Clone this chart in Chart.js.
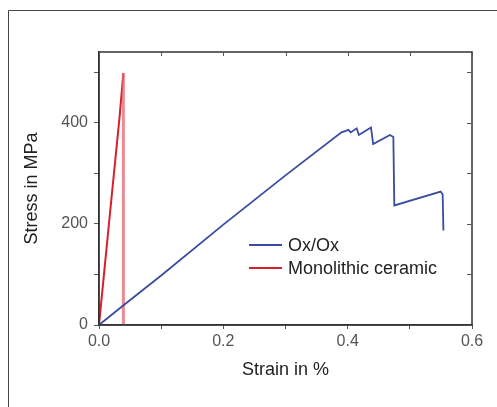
<!DOCTYPE html>
<html>
<head>
<meta charset="utf-8">
<script src="https://cdn.jsdelivr.net/npm/chart.js@4.4.1/dist/chart.umd.min.js"></script>
<style>
html,body{margin:0;padding:0;background:#fff;}
#wrap{width:497px;height:407px;position:relative;}
</style>
</head>
<body>
<div id="wrap"><canvas id="c" width="497" height="407"></canvas></div>
<script>
// Data
const strainOx   = [0, 0.04, 0.1, 0.2, 0.3, 0.39, 0.397, 0.401, 0.405, 0.4145, 0.418, 0.4375, 0.441, 0.468, 0.4735, 0.475, 0.5496, 0.5528, 0.554];
const stressOx   = [0, 39.5, 98, 198.5, 296, 381, 384, 386, 381, 389, 376, 390.6, 358, 375.7, 372, 236.5, 264, 258, 187];
const strainMono = [0, 0.008, 0.02, 0.033, 0.0392, 0.0392];
const stressMono = [0, 100, 250, 410, 498, 0];
const seriesNames = ['Ox/Ox', 'Monolithic ceramic'];
const xTickLabels = ['0.0', '0.2', '0.4', '0.6'];
const yTickLabels = ['0', '200', '400'];

const BLUE = '#3a4c9f';
const RED = '#d6212c';
const RED_LIGHT = 'rgba(228,100,110,0.75)';

const toPts = (xs, ys) => xs.map((x, i) => ({x: x, y: ys[i]}));

const framePlugin = {
  id: 'frame',
  beforeDraw(chart) {
    const c = chart.ctx;
    c.save();
    c.fillStyle = '#fff';
    c.fillRect(0, 0, chart.width, chart.height);
    c.strokeStyle = '#444';
    c.lineWidth = 1;
    c.beginPath();
    c.moveTo(8.5, 407);
    c.lineTo(8.5, 10.5);
    c.lineTo(497, 10.5);
    c.stroke();
    c.restore();
  },
  afterDraw(chart) {
    const c = chart.ctx;
    const a = chart.chartArea;
    const xs = chart.scales.x, ys = chart.scales.y;
    c.save();
    c.strokeStyle = '#333';
    c.lineWidth = 1.5;
    c.strokeRect(a.left, a.top, a.right - a.left, a.bottom - a.top);
    c.lineWidth = 1;
    c.strokeStyle = '#555';
    c.beginPath();
    xs.ticks.forEach(t => {
      const px = Math.round(xs.getPixelForValue(t.value)) + 0.5;
      c.moveTo(px, a.top); c.lineTo(px, a.top + 4);
    });
    ys.ticks.forEach(t => {
      const py = Math.round(ys.getPixelForValue(t.value)) + 0.5;
      c.moveTo(a.right, py); c.lineTo(a.right - 5, py);
    });
    c.stroke();
    // legend
    const ly = [245, 268];
    const cols = [BLUE, RED];
    c.font = '18px "Liberation Sans", Arial, sans-serif';
    c.textBaseline = 'middle';
    c.textAlign = 'left';
    seriesNames.forEach((n, i) => {
      c.strokeStyle = cols[i];
      c.lineWidth = 1.8;
      c.beginPath();
      c.moveTo(249, ly[i]); c.lineTo(282, ly[i]);
      c.stroke();
      c.fillStyle = '#222';
      c.fillText(n, 288, ly[i] + 1);
    });
    c.restore();
  }
};

new Chart(document.getElementById('c'), {
  type: 'scatter',
  data: {
    datasets: [
      {
        label: seriesNames[0],
        data: toPts(strainOx, stressOx),
        showLine: true,
        borderColor: BLUE,
        borderWidth: 1.8,
        pointRadius: 0,
        tension: 0
      },
      {
        label: seriesNames[1],
        data: toPts(strainMono, stressMono),
        showLine: true,
        borderColor: RED,
        borderWidth: 2,
        pointRadius: 0,
        tension: 0,
        segment: {
          borderColor: ctx => ctx.p1DataIndex === strainMono.length - 1 ? RED_LIGHT : RED,
          borderWidth: ctx => ctx.p1DataIndex === strainMono.length - 1 ? 3 : 2
        }
      }
    ]
  },
  options: {
    responsive: false,
    animation: false,
    events: [],
    layout: {padding: {left: 0, top: 52, right: 25, bottom: 0}},
    plugins: {legend: {display: false}, tooltip: {enabled: false}},
    scales: {
      x: {
        type: 'linear',
        min: 0, max: 0.6,
        afterFit: s => { s.height = 82; },
        border: {display: true, color: '#333', width: 1.5},
        grid: {drawOnChartArea: false, drawTicks: true, tickLength: 4, tickColor: '#555'},
        ticks: {
          stepSize: 0.1,
          includeBounds: false,
          padding: 3,
          color: '#555',
          maxRotation: 0,
          font: {family: '"Liberation Sans", Arial, sans-serif', size: 16},
          callback: v => {
            const k = Math.round(v * 10);
            return k % 2 === 0 ? xTickLabels[k / 2] : '';
          }
        },
        title: {
          display: true,
          text: 'Strain in %',
          color: '#222',
          padding: {top: 0, bottom: 26},
          font: {family: '"Liberation Sans", Arial, sans-serif', size: 18}
        }
      },
      y: {
        type: 'linear',
        min: 0, max: 540,
        afterFit: s => { s.width = 99; },
        border: {display: true, color: '#333', width: 1.5},
        grid: {drawOnChartArea: false, drawTicks: true, tickLength: 5, tickColor: '#555'},
        ticks: {
          stepSize: 100,
          includeBounds: false,
          padding: 6,
          color: '#555',
          font: {family: '"Liberation Sans", Arial, sans-serif', size: 16},
          callback: v => {
            const k = Math.round(v / 100);
            return k % 2 === 0 ? (yTickLabels[k / 2] || '') : '';
          }
        },
        title: {
          display: true,
          text: 'Stress in MPa',
          color: '#222',
          padding: {top: 21, bottom: 0},
          font: {family: '"Liberation Sans", Arial, sans-serif', size: 18}
        }
      }
    }
  },
  plugins: [framePlugin]
});
</script>
</body>
</html>
